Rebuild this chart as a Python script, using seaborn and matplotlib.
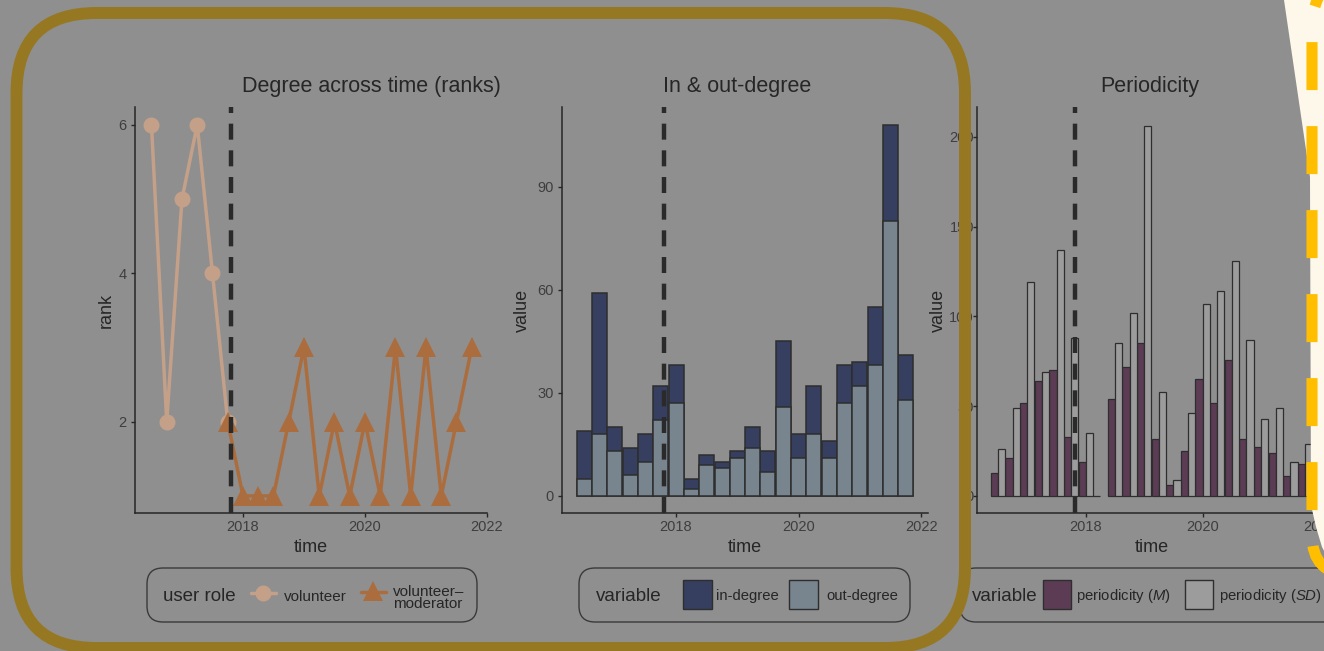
import numpy as np
import pandas as pd
import matplotlib.pyplot as plt
import seaborn as sns
from matplotlib.patches import FancyBboxPatch, Polygon, PathPatch, Rectangle
from matplotlib.path import Path

# 데이터
quarters = [2016.5, 2016.75, 2017.0, 2017.25, 2017.5, 2017.75, 2018.0, 2018.25,
            2018.5, 2018.75, 2019.0, 2019.25, 2019.5, 2019.75, 2020.0, 2020.25,
            2020.5, 2020.75, 2021.0, 2021.25, 2021.5, 2021.75]

vol_time = [2016.5, 2016.75, 2017.0, 2017.25, 2017.5, 2017.75]
vol_rank = [6, 2, 5, 6, 4, 2]
mod_time = [2017.75, 2018.0, 2018.25, 2018.5, 2018.75, 2019.0, 2019.25, 2019.5, 2019.75,
            2020.0, 2020.25, 2020.5, 2020.75, 2021.0, 2021.25, 2021.5, 2021.75]
mod_rank = [2, 1, 1, 1, 2, 3, 1, 2, 1, 2, 1, 3, 1, 3, 1, 2, 3]

in_degree = [14, 41, 7, 8, 8, 10, 11, 3, 3, 2, 2, 6, 6, 19, 7, 14, 5, 11, 7, 17, 28, 13]
out_degree = [5, 18, 13, 6, 10, 22, 27, 2, 9, 8, 11, 14, 7, 26, 11, 18, 11, 27, 32, 38, 80, 28]

period_m = [13, 21, 52, 64, 70, 33, 19, 0, 54, 72, 85,
            32, 6, 25, 65, 52, 76, 32, 27, 24, 11, 18]
period_sd = [26, 49, 119, 69, 137, 88, 35, np.nan, 85, 102, 206,
             58, 9, 46, 107, 114, 131, 87, 43, 49, 19, 29]

event_time = 2017.81
year_ticks = [2018, 2020, 2022]
year_labels = ['2018', '2020', '2022']

BG = '#8f8f8f'
INK = '#262626'
VOL = '#c4a089'
MOD = '#ab6d3e'
IN_COL = '#363f5f'
OUT_COL = '#78858e'
M_COL = '#5c3c55'
SD_COL = '#9c9c9c'
EDGE = '#2e2e2e'

sns.set_theme(style='ticks')
plt.rcParams['font.family'] = ['Liberation Sans', 'DejaVu Sans']
plt.rcParams['mathtext.fontset'] = 'custom'
plt.rcParams['mathtext.rm'] = 'Liberation Sans'
plt.rcParams['mathtext.it'] = 'Liberation Sans:italic'

W, H = 1324, 651
fig = plt.figure(figsize=(W / 100, H / 100), dpi=100, facecolor=BG)

def px_axes(left, top, right, bottom):
    return fig.add_axes([left / W, 1 - bottom / H, (right - left) / W, (bottom - top) / H])

ax1 = px_axes(135, 107, 487, 513)
ax2 = px_axes(562, 107, 928, 513)
ax3 = px_axes(977, 107, 1326, 513)

# 1) 순위
sns.lineplot(x=vol_time, y=vol_rank, color=VOL, marker='o', markersize=11.5,
             markeredgewidth=0, linewidth=2.5, ax=ax1)
sns.lineplot(x=mod_time, y=mod_rank, color=MOD, marker='^', markersize=14,
             markeredgewidth=0, linewidth=2.5, ax=ax1)
ax1.set_xlim(2016.23, 2022.0)
ax1.set_ylim(0.77, 6.24)
ax1.set_yticks([2, 4, 6])
ax1.set_ylabel('rank')

# 2) in & out-degree (누적 막대)
total_degree = np.add(in_degree, out_degree)
sns.barplot(x=quarters, y=total_degree, native_scale=True, color=IN_COL, saturation=1,
            width=0.98, edgecolor=EDGE, linewidth=1.1, errorbar=None, ax=ax2)
sns.barplot(x=quarters, y=out_degree, native_scale=True, color=OUT_COL, saturation=1,
            width=0.98, edgecolor=EDGE, linewidth=1.1, errorbar=None, ax=ax2)
ax2.set_xlim(2016.14, 2022.11)
ax2.set_ylim(-5, 113.3)
ax2.set_yticks([0, 30, 60, 90])
ax2.set_ylabel('value')

# 3) periodicity
df3 = pd.DataFrame({
    'time': quarters * 2,
    'value': period_m + period_sd,
    'variable': ['M'] * len(quarters) + ['SD'] * len(quarters),
})
sns.barplot(data=df3, x='time', y='value', hue='variable', hue_order=['M', 'SD'],
            native_scale=True, dodge=True, width=0.98, saturation=1,
            palette={'M': M_COL, 'SD': SD_COL}, edgecolor=EDGE, linewidth=0.9,
            errorbar=None, legend=False, ax=ax3)
ax3.set_xlim(2016.14, 2022.11)
ax3.set_ylim(-9.5, 216.7)
ax3.set_yticks([0, 50, 100, 150, 200])
ax3.set_ylabel('value')

ylab_x = {ax1: -0.057, ax2: -0.085, ax3: -0.086}
for ax in (ax1, ax2, ax3):
    ax.set_facecolor(BG)
    ax.axvline(event_time, color='#2a2a2a', linewidth=3.2, linestyle=(0, (3.6, 2.4)), zorder=5)
    ax.set_xticks(year_ticks)
    ax.set_xticklabels(year_labels)
    ax.set_xlabel('time', fontsize=13, color=INK)
    ax.xaxis.set_label_coords(0.5, -0.063)
    ax.yaxis.label.set_fontsize(13)
    ax.yaxis.label.set_color(INK)
    ax.yaxis.set_label_coords(ylab_x[ax], 0.5)
    sns.despine(ax=ax)
    for s in ('left', 'bottom'):
        ax.spines[s].set_color(INK)
        ax.spines[s].set_linewidth(1.1)
    ax.tick_params(axis='both', length=3.2, width=1, color=INK,
                   labelsize=10.5, labelcolor='#3e3e3e')
    ax.tick_params(axis='x', pad=2)
    ax.tick_params(axis='y', pad=3)
ax3.tick_params(axis='y', pad=-1)

# 위에 덮는 장식 (픽셀 좌표)
ov = fig.add_axes([0, 0, 1, 1], zorder=10)
ov.set_xlim(0, W)
ov.set_ylim(H, 0)
ov.axis('off')
ov.patch.set_alpha(0)

for x, txt in [(371, 'Degree across time (ranks)'), (737, 'In & out-degree'), (1150, 'Periodicity')]:
    ov.text(x, 92, txt, ha='center', va='baseline', fontsize=15.5, color=INK)

# 범례 상자
for left, right in [(147, 477), (579, 910), (960, 1345)]:
    ov.add_patch(FancyBboxPatch((left, 568), right - left, 54,
                                boxstyle='round,pad=0,rounding_size=16',
                                fc='none', ec='#3a3a3a', lw=1.0))

ov.text(163, 601, 'user role', fontsize=13.5, color=INK, va='baseline')
ov.plot([251, 276], [593, 593], color=VOL, lw=2.5)
ov.plot(263, 593, 'o', color=VOL, ms=11.5, mew=0)
ov.text(284, 601, 'volunteer', fontsize=11, color=INK, va='baseline')
ov.plot([361, 386], [592, 592], color=MOD, lw=2.5)
ov.plot(373, 591, '^', color=MOD, ms=14, mew=0)
ov.text(393, 596, 'volunteer\u2013', fontsize=11, color=INK, va='baseline')
ov.text(393, 608, 'moderator', fontsize=11, color=INK, va='baseline')

ov.text(596, 601, 'variable', fontsize=13.5, color=INK, va='baseline')
ov.add_patch(Rectangle((683, 580), 29, 29, fc=IN_COL, ec=EDGE, lw=1))
ov.text(716, 600, 'in-degree', fontsize=10.7, color=INK, va='baseline')
ov.add_patch(Rectangle((789, 580), 29, 29, fc=OUT_COL, ec=EDGE, lw=1))
ov.text(826, 600, 'out-degree', fontsize=10.7, color=INK, va='baseline')

ov.text(972, 601, 'variable', fontsize=13.5, color=INK, va='baseline')
ov.add_patch(Rectangle((1043, 580), 28, 29, fc=M_COL, ec=EDGE, lw=1))
ov.text(1076, 600, 'periodicity ($\\mathit{M}$)', fontsize=10.7, color=INK, va='baseline')
ov.add_patch(Rectangle((1185, 580), 28, 29, fc=SD_COL, ec=EDGE, lw=1))
ov.text(1219, 600, 'periodicity ($\\mathit{SD}$)', fontsize=10.7, color=INK, va='baseline')

# 금색 테두리
ov.add_patch(FancyBboxPatch((16.5, 13), 965 - 16.5, 648 - 13,
                            boxstyle='round,pad=0,rounding_size=80',
                            fill=False, ec='#967823', lw=8.6))

# 오른쪽 크림색 영역 + 노란 점선
ov.add_patch(Polygon([(1284, 0), (1330, 0), (1330, 562), (1322, 547), (1316, 527),
                      (1311, 505), (1310, 177)], closed=True, fc='#fdf8ea', ec='none'))
verts = [(1420, -30), (1372, -30), (1312, -30), (1312, 30), (1312, 535),
         (1312, 575), (1352, 575), (1400, 575)]
codes = [Path.MOVETO, Path.LINETO, Path.CURVE3, Path.CURVE3, Path.LINETO,
         Path.CURVE3, Path.CURVE3, Path.LINETO]
ov.add_patch(PathPatch(Path(verts, codes), fill=False, ec='#ffbf00', lw=8,
                       linestyle=(5.27, (4.32, 3.24)), capstyle='butt'))

fig.savefig('out.png', dpi=100, facecolor=BG)
